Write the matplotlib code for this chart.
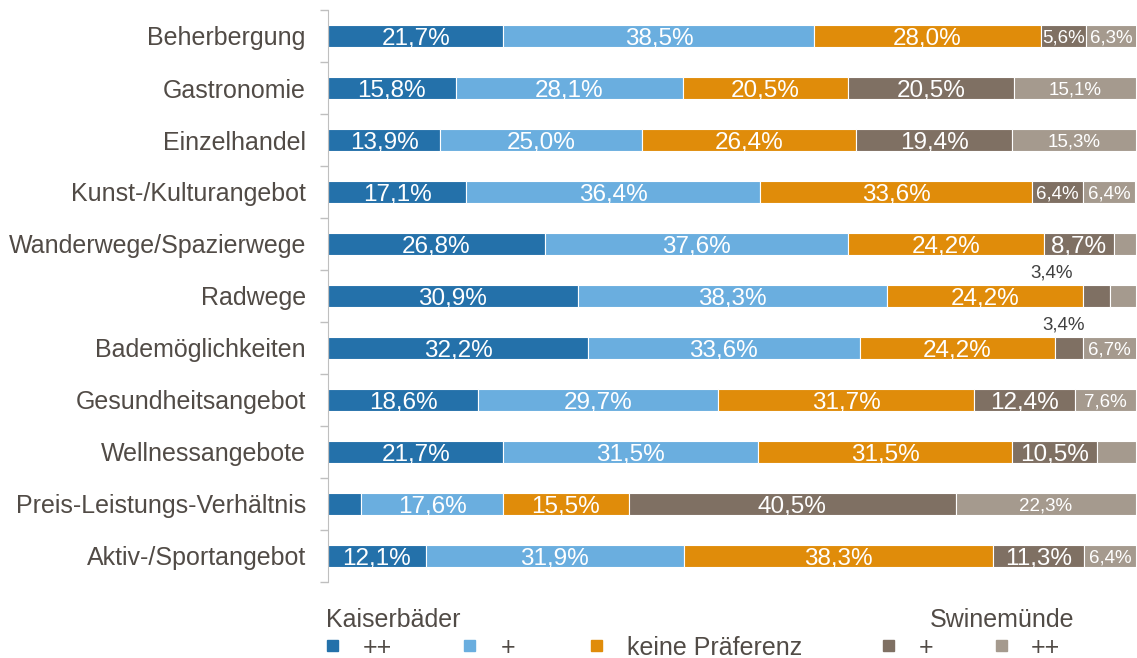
import numpy as np
import matplotlib.pyplot as plt
from matplotlib.patches import Rectangle

plt.rcParams['font.family'] = ['Liberation Sans', 'DejaVu Sans']

categories = ['Beherbergung', 'Gastronomie', 'Einzelhandel', 'Kunst-/Kulturangebot',
              'Wanderwege/Spazierwege', 'Radwege', 'Bademöglichkeiten',
              'Gesundheitsangebot', 'Wellnessangebote', 'Preis-Leistungs-Verhältnis',
              'Aktiv-/Sportangebot']
kaiser_pp = [21.7, 15.8, 13.9, 17.1, 26.8, 30.9, 32.2, 18.6, 21.7, 4.1, 12.1]
kaiser_p = [38.5, 28.1, 25.0, 36.4, 37.6, 38.3, 33.6, 29.7, 31.5, 17.6, 31.9]
neutral = [28.0, 20.5, 26.4, 33.6, 24.2, 24.2, 24.2, 31.7, 31.5, 15.5, 38.3]
swine_p = [5.6, 20.5, 19.4, 6.4, 8.7, 3.4, 3.4, 12.4, 10.5, 40.5, 11.3]
swine_pp = [6.3, 15.1, 15.3, 6.4, 2.7, 3.2, 6.7, 7.6, 4.8, 22.3, 6.4]
series_names = ['++', '+', 'keine Präferenz', '+', '++']

series = [kaiser_pp, kaiser_p, neutral, swine_p, swine_pp]
colors = ['#2471AA', '#6AAEDF', '#E08C0A', '#7F7063', '#A59A8E']
txt = '#514B46'

fig = plt.figure(figsize=(11.37, 6.58), dpi=100)
ax = fig.add_axes([328 / 1137, 1 - 582 / 658, 808 / 1137, 572 / 658])

y = np.arange(len(categories))
left = np.zeros(len(categories))
for i, vals in enumerate(series):
    vals = np.array(vals)
    ax.barh(y, vals, left=left, height=0.42, color=colors[i],
            edgecolor='white', linewidth=0.8)
    for j, v in enumerate(vals):
        lab = ('%.1f%%' % v).replace('.', ',')
        cx = left[j] + v / 2
        if v < 5:
            if i == 3:
                dx = -45 if j == 5 else -5
                ax.annotate(lab, (cx, y[j]), xytext=(dx, 23), textcoords='offset pixels',
                            ha='center', va='center', fontsize=13.5, color='#404040')
            continue
        small = v < 7 or i == 4
        ax.text(cx, y[j], lab, ha='center', va='center_baseline', color='white',
                fontsize=13.5 if small else 17.5)
    left += vals

ax.set_xlim(0, 100)
ax.set_ylim(len(categories) - 0.5, -0.5)
ax.set_xticks([])
ax.set_yticks(y)
ax.set_yticklabels(categories, fontsize=18, color=txt)
ax.tick_params(axis='y', which='major', length=0, pad=16)
ax.set_yticks(np.arange(-0.5, len(categories)), minor=True)
ax.tick_params(axis='y', which='minor', length=6, color='#BFBFBF', width=1)
for s in ['top', 'right', 'bottom']:
    ax.spines[s].set_visible(False)
ax.spines['left'].set_color('#BFBFBF')

# legend
fig.text(326 / 1137, 1 - 620 / 658, 'Kaiserbäder', fontsize=18, color=txt, va='center')
fig.text(1074 / 1137, 1 - 620 / 658, 'Swinemünde', fontsize=18, color=txt, va='center', ha='right')
sq_x = [327, 464, 591, 883, 996]
tx_x = [363, 501, 627, 919, 1031]
for c, name, sx, tx in zip(colors, series_names, sq_x, tx_x):
    fig.add_artist(Rectangle((sx / 1137, 1 - 651 / 658), 11 / 1137, 11 / 658,
                             transform=fig.transFigure, color=c))
    fig.text(tx / 1137, 1 - 648 / 658, name, fontsize=18, color=txt, va='center')

fig.savefig('out.png', dpi=100)
